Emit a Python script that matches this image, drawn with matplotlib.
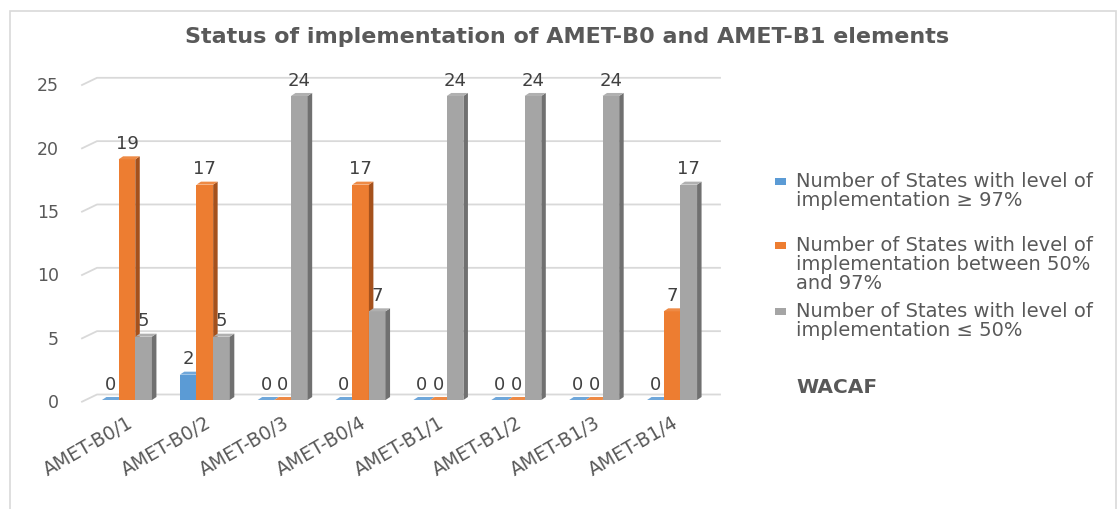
import matplotlib
matplotlib.use("Agg")
import matplotlib.pyplot as plt
from matplotlib.patches import Rectangle, Polygon

W, H = 1119, 510          # output size in pixels

categories = ["AMET-B0/1", "AMET-B0/2", "AMET-B0/3", "AMET-B0/4",
              "AMET-B1/1", "AMET-B1/2", "AMET-B1/3", "AMET-B1/4"]
above97 = [0, 2, 0, 0, 0, 0, 0, 0]
between = [19, 17, 0, 17, 0, 0, 0, 7]
below50 = [5, 5, 24, 7, 24, 24, 24, 17]
series_labels = ["Number of States with level of\nimplementation \u2265 97%",
                 "Number of States with level of\nimplementation between 50%\nand 97%",
                 "Number of States with level of\nimplementation \u2264 50%"]
yticks = [0, 5, 10, 15, 20, 25]
title = "Status of implementation of AMET-B0 and AMET-B1 elements"
note = "WACAF"

# front / side / top colours of the pseudo-3D columns
FRONT = ["#5B9BD5", "#ED7D31", "#A5A5A5"]
SIDE  = ["#3F6E9A", "#A5511C", "#707070"]
TOP   = ["#6FA7DA", "#EE8A45", "#B0B0B0"]
TXT   = "#595959"
GRID  = "#D9D9D9"


def px(x, y):
    """pixel position (from top-left) -> figure fraction"""
    return x / W, 1 - y / H


fig = plt.figure(figsize=(W / 100, H / 100), dpi=100)
fig.patches.append(Rectangle(px(10, 540), (1116 - 10) / W, (540 - 12) / H,
                             transform=fig.transFigure, fill=False,
                             ec=GRID, lw=1.2))

# axes = middle depth plane of the 3D chart
L, R, B, T = 88, 711, 401, 84.3
ax = fig.add_axes([L / W, 1 - B / H, (R - L) / W, (B - T) / H])
ax.set_xlim(-0.5, 7.5)
ax.set_ylim(0, 25)
for s in ax.spines.values():
    s.set_visible(False)

ux = (R - L) / 8.0       # px per x unit
uy = (B - T) / 25.0      # px per y unit
bdx, bdy = 9 / ux, 5.5 / uy      # back wall offset
fdx, fdy = -6 / ux, -1.7 / uy    # front edge offset
for v in yticks:
    ax.plot([-0.5 + fdx, -0.5 + bdx, 7.5 + bdx], [v + fdy, v + bdy, v + bdy],
            color=GRID, lw=1.3, clip_on=False, zorder=0)

w = 0.214
dx, dy = 4.5 / ux, 3 / uy
for k, vals in enumerate([above97, between, below50]):
    for i, h in enumerate(vals):
        x0 = i + (k - 1.5) * w
        z = 2 + k
        ax.add_patch(Rectangle((x0, 0), w, h, fc=FRONT[k], ec="none", zorder=z))
        ax.add_patch(Polygon([(x0 + w, 0), (x0 + w + dx, dy), (x0 + w + dx, h + dy),
                              (x0 + w, h)], closed=True, fc=SIDE[k], ec="none", zorder=z))
        ax.add_patch(Polygon([(x0, h), (x0 + dx, h + dy), (x0 + w + dx, h + dy),
                              (x0 + w, h)], closed=True, fc=TOP[k], ec="none", zorder=z))
        ax.annotate(str(h), (x0 + w / 2, h + dy), xytext=(0, 3),
                    textcoords="offset points", ha="center", va="bottom",
                    fontsize=13, color="#404040", zorder=10)

ax.set_yticks(yticks)
ax.set_yticklabels([str(v) for v in yticks], fontsize=12.5, color=TXT)
ax.set_xticks(range(len(categories)))
ax.set_xticklabels(categories, rotation=30, ha="right", rotation_mode="anchor",
                   fontsize=13.5, color=TXT)
ax.tick_params(axis="y", length=0, pad=21)
ax.tick_params(axis="x", length=0, pad=9)

fig.text(*px(567, 37), title, ha="center", va="center", fontsize=16,
         fontweight="bold", color=TXT)

# legend, drawn by hand so the marker sits on the first line
leg_y = [182, 246, 312]
for k, lab in enumerate(series_labels):
    fig.patches.append(Rectangle(px(775, leg_y[k] + 3.5), 11 / W, 7 / H,
                                 transform=fig.transFigure, fc=FRONT[k], ec="none"))
    fig.text(*px(796, leg_y[k] - 10), lab, ha="left", va="top", fontsize=14,
             color=TXT, linespacing=1.0)
fig.text(*px(796, 388), note, ha="left", va="center", fontsize=14.5,
         fontweight="bold", color=TXT)

fig.savefig("out.png", dpi=100)
